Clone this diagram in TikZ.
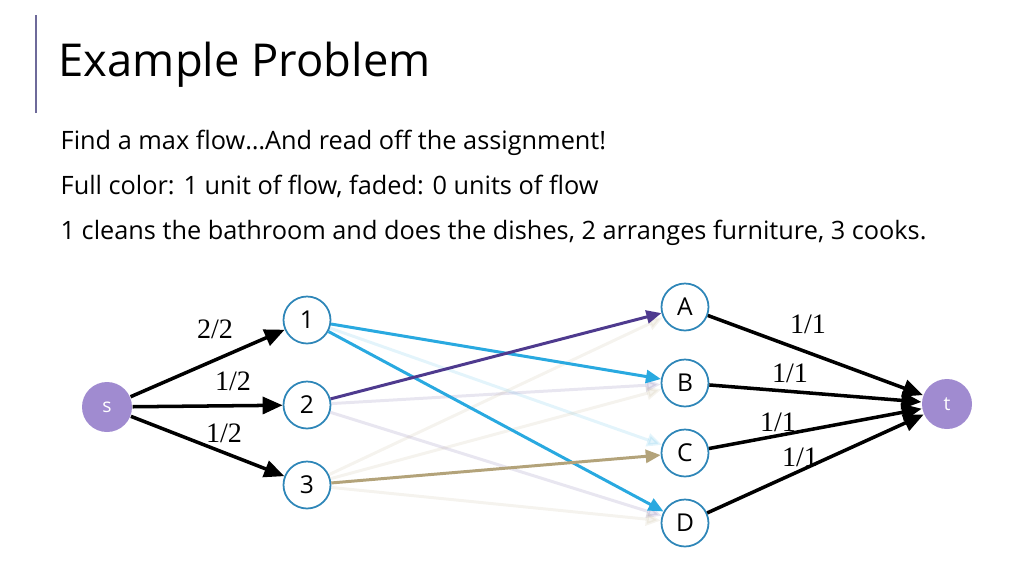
\documentclass[tikz,border=0pt]{standalone}
\usepackage{fontspec}
\setmainfont{Open Sans}
\newfontfamily\capfont{Liberation Serif}
\usetikzlibrary{arrows.meta}
\definecolor{flowblue}{HTML}{29A9E0}
\definecolor{flowpurple}{HTML}{4E3A8E}
\definecolor{flowtan}{HTML}{B3A37A}
\definecolor{ringblue}{HTML}{2E86B8}
\definecolor{endfill}{HTML}{A08BD0}
\definecolor{rulecol}{HTML}{6E6A9A}

\begin{document}
\begin{tikzpicture}[
  vertex/.style={circle,draw=ringblue,line width=0.5pt,fill=white,minimum size=0.47cm,inner sep=0pt,font=\fontsize{7}{8}\selectfont},
  term/.style={circle,fill=endfill,minimum size=0.5cm,inner sep=0pt,text=white,font=\fontsize{5.5}{6}\selectfont},
  full/.style={-{Triangle[length=0.15cm,width=0.13cm]},line width=0.85pt},
  heavy/.style={-{Triangle[length=0.2cm,width=0.17cm]},line width=1pt},
  faded/.style={full,draw opacity=0.13,fill opacity=0.13},
  caplabel/.style={font=\capfont\fontsize{8}{9}\selectfont}
]
\useasboundingbox (0,0) rectangle (10.24,5.76);

% heading
\draw [rulecol,line width=0.6pt] (0.36,4.63) -- (0.36,5.61);
\node [anchor=base west,inner sep=0pt] (title) at (0.58,5.00) {\fontsize{12.9}{15}\selectfont Example Problem};
\node [anchor=base west,inner sep=0pt] (lineone) at (0.60,4.27) {\fontsize{7.2}{8}\selectfont Find a max flow\ldots And read off the assignment!};
\node [anchor=base west,inner sep=0pt] (linetwo) at (0.60,3.82) {\fontsize{7.2}{8}\selectfont Full color: 1 unit of flow, faded: 0 units of flow};
\node [anchor=base west,inner sep=0pt] (linethree) at (0.60,3.37) {\fontsize{7.2}{8}\selectfont 1 cleans the bathroom and does the dishes, 2 arranges furniture, 3 cooks.};

% nodes
\node [term] (s) at (1.07,1.69) {s};
\node [vertex] (p1) at (3.07,2.56) {1};
\node [vertex] (p2) at (3.07,1.71) {2};
\node [vertex] (p3) at (3.07,0.91) {3};
\node [vertex] (A) at (6.85,2.69) {A};
\node [vertex] (B) at (6.85,1.93) {B};
\node [vertex] (C) at (6.85,1.23) {C};
\node [vertex] (D) at (6.85,0.53) {D};
\node [term] (t) at (9.47,1.72) {t};

% faded edges (no flow)
\draw [faded,flowblue] (p1) -- (C);
\draw [faded,flowpurple] (p2) -- (B);
\draw [faded,flowpurple] (p2) -- (D);
\draw [faded,flowtan] (p3) -- (A);
\draw [faded,flowtan] (p3) -- (B);
\draw [faded,flowtan] (p3) -- (D);

% edges with flow
\draw [full,flowblue] (p1) -- (B);
\draw [full,flowblue] (p1) -- (D);
\draw [full,flowpurple] (p2) -- (A);
\draw [full,flowtan] (p3) -- (C);

\draw [heavy] (s) -- (p1);
\draw [heavy] (s) -- (p2);
\draw [heavy] (s) -- (p3);
\draw [heavy] (A) -- (t);
\draw [heavy] (B) -- (t);
\draw [heavy] (C) -- (t);
\draw [heavy] (D) -- (t);

% capacities
\node [caplabel] (c1) at (2.15,2.47) {2/2};
\node [caplabel] (c2) at (2.33,1.95) {1/2};
\node [caplabel] (c3) at (2.24,1.43) {1/2};
\node [caplabel] (cA) at (8.08,2.52) {1/1};
\node [caplabel] (cB) at (7.90,2.03) {1/1};
\node [caplabel] (cC) at (7.78,1.54) {1/1};
\node [caplabel] (cD) at (8.00,1.19) {1/1};

\end{tikzpicture}
\end{document}
